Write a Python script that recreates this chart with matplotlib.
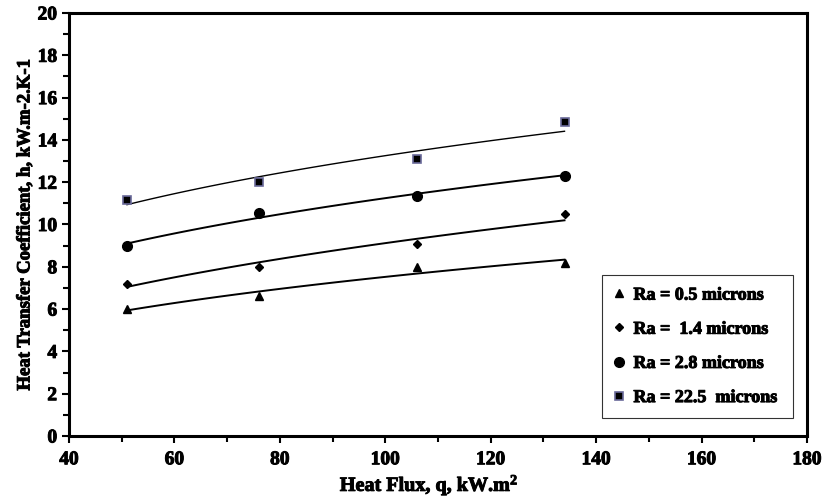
import numpy as np
import matplotlib
matplotlib.use("Agg")
import matplotlib.pyplot as plt
import matplotlib.patheffects as pe
from matplotlib.ticker import MultipleLocator

plt.rcParams['font.family'] = ['Liberation Serif', 'DejaVu Serif']
plt.rcParams['font.weight'] = 'bold'
plt.rcParams['mathtext.fontset'] = 'custom'
plt.rcParams['mathtext.rm'] = 'Liberation Serif:bold'
plt.rcParams['mathtext.bf'] = 'Liberation Serif:bold'
plt.rcParams['mathtext.default'] = 'bf'

heat_flux = [51, 76, 106, 134]
h_ra05 = [6.0, 6.6, 8.0, 8.2]
h_ra14 = [7.2, 8.0, 9.1, 10.5]
h_ra28 = [9.0, 10.55, 11.35, 12.3]
h_ra225 = [11.15, 12.0, 13.1, 14.85]
labels = ["Ra = 0.5 microns", "Ra =  1.4 microns", "Ra = 2.8 microns", "Ra = 22.5  microns"]

bold = [pe.withStroke(linewidth=0.7, foreground='black')]

fig = plt.figure(figsize=(8.24, 4.98), dpi=100)
ax = fig.add_axes([69/824, 1-436/498, 738/824, 423/498])

series = [
    (h_ra05, dict(marker='^', color='black', markersize=6, linestyle='none'), 1.4),
    (h_ra14, dict(marker='D', color='black', markersize=4.5, linestyle='none'), 1.4),
    (h_ra28, dict(marker='o', color='black', markersize=7, linestyle='none'), 1.4),
    (h_ra225, dict(marker='s', markerfacecolor='black', markeredgecolor='#6a6a9a', markeredgewidth=1.2, markersize=6, linestyle='none'), 1.0),
]

x = np.array(heat_flux, dtype=float)
xx = np.linspace(x.min(), x.max(), 100)
for (ys, style, lw), lab in zip(series, labels):
    y = np.array(ys)
    b, a = np.polyfit(np.log(x), np.log(y), 1)
    ax.plot(xx, np.exp(a) * xx ** b, color='black', linewidth=lw)
    ax.plot(x, y, label=lab, **style)

ax.set_xlim(40, 180)
ax.set_ylim(0, 20)
ax.xaxis.set_major_locator(MultipleLocator(20))
ax.xaxis.set_minor_locator(MultipleLocator(10))
ax.yaxis.set_major_locator(MultipleLocator(2))
ax.yaxis.set_minor_locator(MultipleLocator(1))
ax.tick_params(which='both', direction='out', width=1.5, labelsize=14)
ax.tick_params(which='major', length=5)
ax.tick_params(which='minor', length=4)
ax.tick_params(axis='x', pad=6)
for lbl in ax.get_xticklabels() + ax.get_yticklabels():
    lbl.set_fontweight('bold')
    lbl.set_path_effects(bold)
for s in ax.spines.values():
    s.set_linewidth(2.2)

xl = ax.set_xlabel("Heat Flux, q, kW.m$^{2}$", fontsize=14.5, fontweight='bold', labelpad=1)
yl = ax.set_ylabel("Heat Transfer Coefficient, h, kW.m-2.K-1", fontsize=13.5, fontweight='bold', labelpad=3)
xl.set_path_effects(bold)
yl.set_path_effects(bold)
ax.xaxis.set_label_coords(0.488, -0.085)

leg = ax.legend(loc='lower left', bbox_to_anchor=(0.722, 0.043, 0.259, 0.33), mode='expand',
                frameon=True, fancybox=False, edgecolor='black', borderaxespad=0,
                handlelength=0.6, handletextpad=0.5, labelspacing=0.95, borderpad=0.65,
                prop={'weight': 'bold', 'size': 13})
leg.get_frame().set_linewidth(0.8)
for t in leg.get_texts():
    t.set_path_effects(bold)

fig.savefig("out.png", dpi=100)
